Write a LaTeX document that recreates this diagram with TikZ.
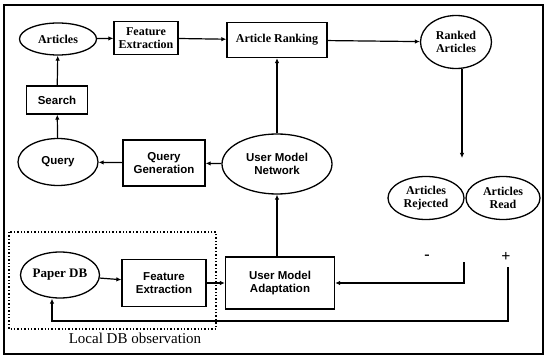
\documentclass[tikz,border=0pt]{standalone}
\usepackage{fontspec}
\setmainfont{Liberation Serif}
\setsansfont{Liberation Sans}
\usetikzlibrary{shapes.geometric,arrows.meta}

\begin{document}
\begin{tikzpicture}[x=1pt,y=-1pt,
  every node/.style={inner sep=0pt, align=center},
  box/.style={draw, line width=1.3pt, rectangle},
  oval/.style={draw, line width=1.3pt, ellipse},
  sf/.style={font=\sffamily\bfseries\fontsize{11.5}{12.5}\selectfont},
  rm/.style={font=\bfseries\fontsize{12}{12.5}\selectfont},
  arr/.style={-{Latex[length=5pt,width=4.5pt]}, line width=1.2pt}]
\useasboundingbox (0,0) rectangle (546,358);
\draw [line width=1.2pt] (4,5) rectangle (543,354);
% top row
\node [oval,rm,minimum width=77,minimum height=32] (art) at (58,39) {Articles};
\node [box,rm,minimum width=64,minimum height=33] (fe1) at (146,38) {Feature\\Extraction};
\node [box,rm,minimum width=100,minimum height=35] (rank) at (277,40) {Article Ranking};
\node [oval,rm,minimum width=71,minimum height=53] (ranked) at (456,42) {Ranked\\Articles};
% query loop
\node [box,sf,minimum width=61,minimum height=28] (search) at (57,100) {Search};
\node [oval,sf,minimum width=80,minimum height=47] (query) at (58,162) {Query};
\node [box,sf,minimum width=82,minimum height=46] (qgen) at (164,163) {Query\\Generation};
\node [oval,sf,minimum width=110,minimum height=60] (umn) at (277,164) {User Model\\Network};
% feedback
\node [oval,rm,minimum width=76,minimum height=43] (rej) at (426,198) {Articles\\Rejected};
\node [oval,rm,minimum width=74,minimum height=43] (read) at (503,198) {Articles\\Read};
\node [font=\bfseries\fontsize{16}{16}\selectfont] (minus) at (427,257) {-};
\node [font=\bfseries\fontsize{16}{16}\selectfont] (plus) at (506,257) {+};
\coordinate (dnend) at (462,158);
\coordinate (rejfb) at (464,262);
\coordinate (readfb) at (508,267);
\coordinate (fbcorner) at (52,321);
% local DB
\node [oval,font=\bfseries\fontsize{13}{14}\selectfont,minimum width=79,minimum height=46] (pdb) at (60,275) {Paper DB};
\node [box,sf,minimum width=84,minimum height=47] (fe2) at (164,283) {Feature\\Extraction};
\node [box,sf,minimum width=109,minimum height=52] (uma) at (280,283) {User Model\\Adaptation};
\draw [dotted, line width=1.4pt] (9,232) rectangle (216,329);
\node [font=\fontsize{15}{15}\selectfont] (localdb) at (135,338) {Local DB observation};
% connectors
\draw [arr] (art) -- (fe1);
\draw [arr] (fe1) -- (rank);
\draw [arr] (rank) -- (ranked);
\draw [arr] (ranked.south -| dnend) -- (dnend);
\draw [arr] (search) -- (art);
\draw [arr] (query) -- (search);
\draw [arr] (qgen) -- (query);
\draw [arr] (umn) -- (qgen);
\draw [arr] (umn) -- (rank);
\draw [arr] (uma.north -| umn) -- (umn);
\draw [arr] (pdb) -- (fe2);
\draw [arr] (fe2) -- (uma);
\draw [arr] (rejfb) |- (uma.east);
\draw [arr] (readfb) |- (fbcorner) -- (fbcorner |- pdb.south);
\end{tikzpicture}
\end{document}
